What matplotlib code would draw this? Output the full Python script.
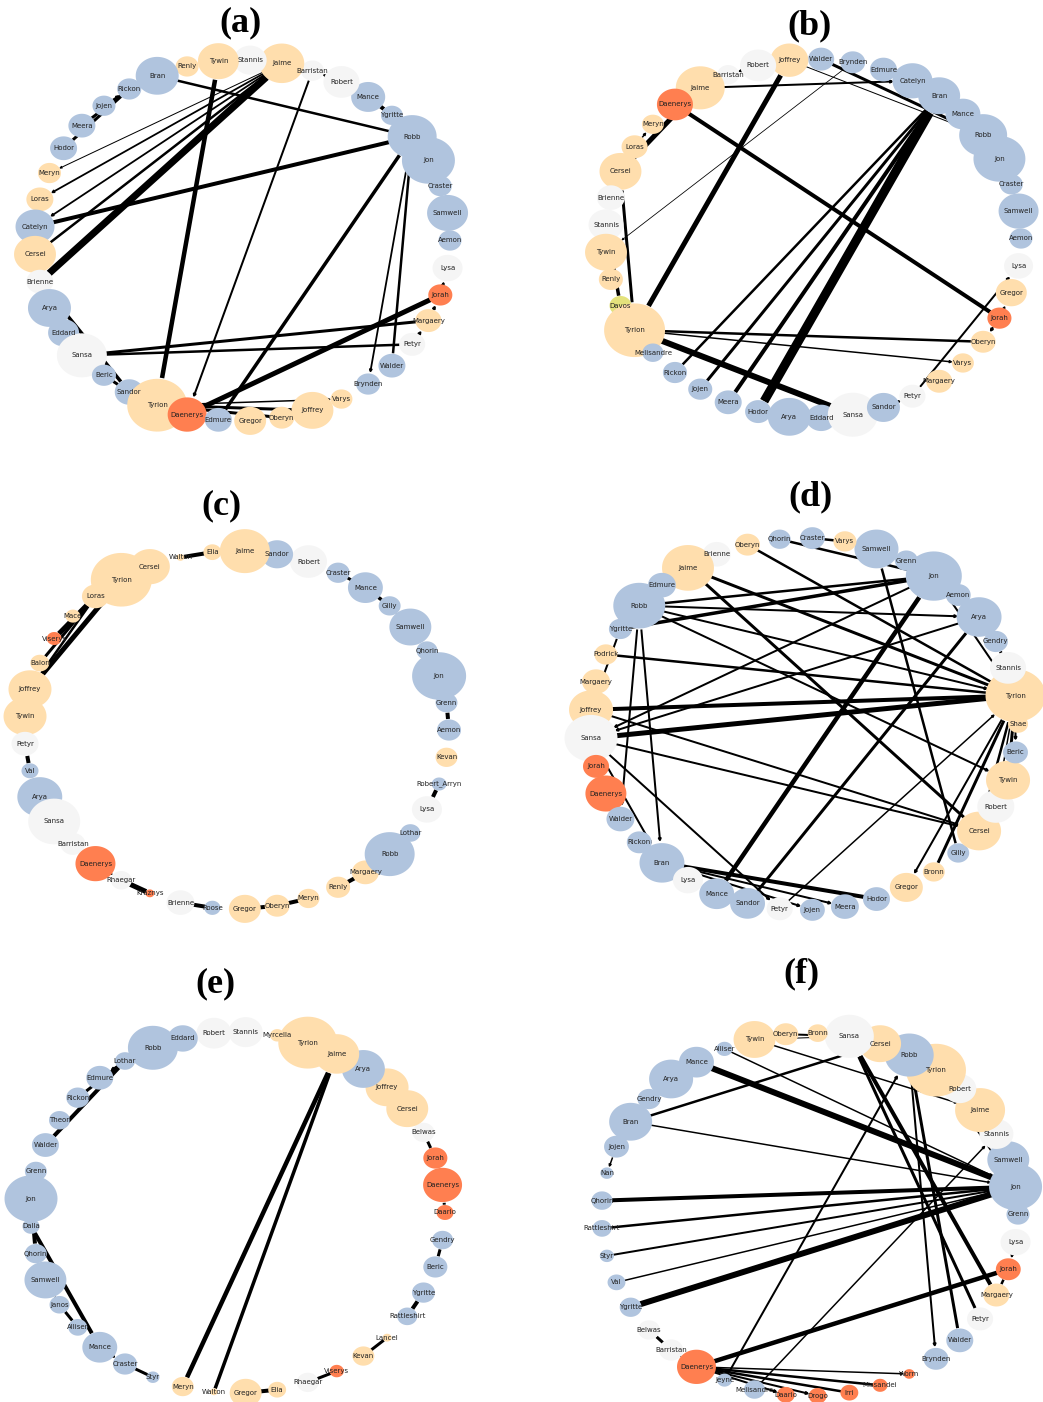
import numpy as np
import matplotlib
matplotlib.use("Agg")
import matplotlib.pyplot as plt
from matplotlib.path import Path
from matplotlib.patches import FancyArrowPatch


# Grupos de personagens (definem a cor do nó) ----------------------------->>>>>
grupo_norte = ["Aemon", "Samwell", "Craster", "Jon", "Robb", "Ygritte", "Mance", "Bran",
               "Rickon", "Jojen", "Meera", "Hodor", "Catelyn", "Arya", "Eddard", "Beric",
               "Sandor", "Edmure", "Brynden", "Walder", "Melisandre", "Grenn", "Gilly",
               "Qhorin", "Lothar", "Roose", "Val", "Robert_Arryn", "Gendry", "Theon",
               "Dalla", "Janos", "Alliser", "Styr", "Rattleshirt", "Nan", "Jeyne"]
grupo_lannister = ["Jaime", "Tywin", "Renly", "Meryn", "Loras", "Cersei", "Tyrion", "Gregor",
                   "Oberyn", "Joffrey", "Varys", "Margaery", "Elia", "Walton", "Mace", "Balon",
                   "Kevan", "Shae", "Podrick", "Bronn", "Myrcella", "Lancel"]
grupo_neutro = ["Stannis", "Barristan", "Robert", "Brienne", "Sansa", "Petyr", "Lysa",
                "Rhaegar", "Belwas"]
grupo_targaryen = ["Daenerys", "Jorah", "Viserys", "Kraznys", "Daario", "Worm", "Missandei",
                   "Irri", "Drogo"]
grupo_davos = ["Davos"]


# Painel (a) ----------------------------->>>>>
nomes_a = ["Aemon", "Samwell", "Craster", "Jon", "Robb", "Ygritte", "Mance", "Robert",
           "Barristan", "Jaime", "Stannis", "Tywin", "Renly", "Bran", "Rickon", "Jojen",
           "Meera", "Hodor", "Meryn", "Loras", "Catelyn", "Cersei", "Brienne", "Arya",
           "Eddard", "Sansa", "Beric", "Sandor", "Tyrion", "Daenerys", "Edmure", "Gregor",
           "Oberyn", "Joffrey", "Varys", "Brynden", "Walder", "Petyr", "Margaery", "Jorah",
           "Lysa"]
valores_a = [53, 168, 53, 281, 240, 48, 116, 130, 53, 202, 109, 168, 53, 185, 58, 53, 73, 73,
             53, 73, 152, 176, 73, 185, 96, 250, 58, 84, 360, 152, 73, 102, 62, 176, 48, 58,
             73, 68, 68, 58, 90]
arestas_a = [("Hodor", "Rickon", 3), ("Meera", "Rickon", 3), ("Jojen", "Rickon", 2),
             ("Ygritte", "Mance", 4), ("Robert", "Barristan", 1.5), ("Bran", "Robb", 2.5),
             ("Jaime", "Meryn", 1), ("Jaime", "Loras", 1.8), ("Jaime", "Catelyn", 1.8),
             ("Jaime", "Cersei", 2.5), ("Jaime", "Brienne", 7), ("Robb", "Catelyn", 4),
             ("Tywin", "Tyrion", 4.5), ("Barristan", "Daenerys", 2), ("Robb", "Edmure", 3.5),
             ("Robb", "Walder", 2.5), ("Robb", "Brynden", 1.8), ("Sansa", "Margaery", 3),
             ("Sansa", "Petyr", 2.5), ("Daenerys", "Jorah", 5), ("Jorah", "Lysa", 2),
             ("Margaery", "Jorah", 2), ("Petyr", "Margaery", 2), ("Tyrion", "Varys", 1.5),
             ("Tyrion", "Joffrey", 3), ("Tyrion", "Oberyn", 3), ("Beric", "Sandor", 3),
             ("Brienne", "Sandor", 3.5)]

# Painel (b) ----------------------------->>>>>
nomes_b = ["Aemon", "Samwell", "Craster", "Jon", "Robb", "Mance", "Bran", "Catelyn", "Edmure",
           "Brynden", "Walder", "Joffrey", "Robert", "Barristan", "Jaime", "Daenerys", "Meryn",
           "Loras", "Cersei", "Brienne", "Stannis", "Tywin", "Renly", "Davos", "Tyrion",
           "Melisandre", "Rickon", "Jojen", "Meera", "Hodor", "Arya", "Eddard", "Sansa",
           "Sandor", "Petyr", "Margaery", "Varys", "Oberyn", "Jorah", "Gregor", "Lysa"]
valores_b = [53, 160, 53, 270, 230, 122, 176, 160, 73, 62, 68, 144, 130, 48, 240, 130, 48, 68,
             176, 78, 122, 176, 58, 48, 372, 44, 58, 58, 73, 68, 185, 90, 250, 109, 68, 68, 48,
             62, 58, 96, 84]
arestas_b = [("Robert", "Barristan", 1.5), ("Jaime", "Catelyn", 2), ("Walder", "Robb", 3),
             ("Joffrey", "Robb", 1), ("Brynden", "Tywin", 0.8), ("Bran", "Rickon", 2.5),
             ("Bran", "Jojen", 3), ("Bran", "Meera", 4), ("Bran", "Hodor", 9),
             ("Daenerys", "Jorah", 4), ("Joffrey", "Tyrion", 5), ("Jaime", "Cersei", 5),
             ("Loras", "Meryn", 1.5), ("Cersei", "Tyrion", 3), ("Stannis", "Davos", 3.5),
             ("Tyrion", "Oberyn", 2.5), ("Tyrion", "Varys", 1.5), ("Tyrion", "Sansa", 6),
             ("Petyr", "Lysa", 2), ("Sandor", "Petyr", 2), ("Jorah", "Gregor", 1.5),
             ("Jorah", "Oberyn", 2)]

# Painel (c) ----------------------------->>>>>
nomes_c = ["Aemon", "Grenn", "Jon", "Qhorin", "Samwell", "Gilly", "Mance", "Craster", "Robert",
           "Sandor", "Jaime", "Elia", "Walton", "Cersei", "Tyrion", "Loras", "Mace", "Viserys",
           "Balon", "Joffrey", "Tywin", "Petyr", "Val", "Arya", "Sansa", "Barristan",
           "Daenerys", "Rhaegar", "Kraznys", "Brienne", "Roose", "Gregor", "Oberyn", "Meryn",
           "Renly", "Margaery", "Robb", "Lothar", "Lysa", "Robert_Arryn", "Kevan"]
valores_c = [58, 48, 292, 44, 176, 48, 122, 53, 137, 102, 250, 32, 6, 160, 372, 73, 22, 22, 36,
             185, 185, 73, 29, 202, 270, 62, 160, 44, 8, 78, 26, 102, 62, 48, 58, 73, 250, 40,
             90, 22, 48]
arestas_c = [("Walton", "Elia", 4), ("Loras", "Viserys", 5), ("Loras", "Balon", 3),
             ("Loras", "Joffrey", 2.5), ("Tyrion", "Joffrey", 5), ("Craster", "Mance", 3),
             ("Mance", "Gilly", 3.5), ("Gilly", "Samwell", 1.5), ("Grenn", "Aemon", 4),
             ("Robert_Arryn", "Lysa", 4), ("Petyr", "Val", 4), ("Barristan", "Daenerys", 2),
             ("Daenerys", "Rhaegar", 1.5), ("Rhaegar", "Kraznys", 5), ("Brienne", "Roose", 4),
             ("Gregor", "Oberyn", 4), ("Oberyn", "Meryn", 4), ("Renly", "Margaery", 4)]

# Painel (d) ----------------------------->>>>>
nomes_d = ["Shae", "Tyrion", "Stannis", "Gendry", "Arya", "Aemon", "Jon", "Grenn", "Samwell",
           "Varys", "Craster", "Qhorin", "Oberyn", "Brienne", "Jaime", "Edmure", "Robb",
           "Ygritte", "Podrick", "Margaery", "Joffrey", "Sansa", "Jorah", "Daenerys", "Walder",
           "Rickon", "Bran", "Lysa", "Mance", "Sandor", "Petyr", "Jojen", "Meera", "Hodor",
           "Gregor", "Bronn", "Gilly", "Cersei", "Robert", "Tywin", "Beric"]
valores_d = [40, 360, 130, 58, 202, 62, 314, 53, 194, 53, 62, 48, 62, 78, 270, 78, 270, 53, 53,
             78, 194, 281, 68, 168, 78, 62, 202, 90, 122, 122, 68, 62, 78, 73, 109, 48, 48, 194,
             137, 194, 62]
arestas_d = [("Qhorin", "Jon", 2.5), ("Craster", "Varys", 2.5), ("Varys", "Samwell", 1.5),
             ("Robb", "Jon", 2.5), ("Ygritte", "Jon", 3.5), ("Robb", "Arya", 2),
             ("Robb", "Tyrion", 2), ("Robb", "Tywin", 2), ("Robb", "Walder", 2),
             ("Robb", "Bran", 2), ("Ygritte", "Joffrey", 2), ("Jaime", "Tyrion", 3),
             ("Jaime", "Cersei", 3), ("Oberyn", "Tyrion", 2.5), ("Podrick", "Tyrion", 2.5),
             ("Joffrey", "Tyrion", 4), ("Sansa", "Tyrion", 5), ("Joffrey", "Cersei", 2),
             ("Sansa", "Cersei", 2), ("Jon", "Sansa", 2), ("Arya", "Sansa", 2),
             ("Sansa", "Petyr", 2), ("Sansa", "Bran", 2), ("Jon", "Mance", 4.5),
             ("Arya", "Sandor", 3), ("Samwell", "Gilly", 2.5), ("Jon", "Tyrion", 2),
             ("Gendry", "Stannis", 3), ("Arya", "Gendry", 1.5), ("Tyrion", "Shae", 2),
             ("Tyrion", "Beric", 2), ("Tyrion", "Tywin", 3), ("Tyrion", "Robert", 1.5),
             ("Tyrion", "Cersei", 2.5), ("Tyrion", "Bronn", 3), ("Tyrion", "Gregor", 2),
             ("Petyr", "Tyrion", 1.5), ("Bran", "Hodor", 4), ("Bran", "Meera", 2),
             ("Bran", "Jojen", 2)]

# Painel (e) ----------------------------->>>>>
nomes_e = ["Daario", "Daenerys", "Jorah", "Belwas", "Cersei", "Joffrey", "Arya", "Jaime",
           "Tyrion", "Myrcella", "Stannis", "Robert", "Eddard", "Robb", "Lothar", "Edmure",
           "Rickon", "Theon", "Walder", "Grenn", "Jon", "Dalla", "Qhorin", "Samwell", "Janos",
           "Alliser", "Mance", "Craster", "Styr", "Meryn", "Walton", "Gregor", "Elia",
           "Rhaegar", "Viserys", "Kevan", "Lancel", "Rattleshirt", "Ygritte", "Beric", "Gendry"]
valores_e = [29, 152, 58, 48, 176, 185, 185, 202, 348, 20, 116, 122, 90, 250, 40, 73, 53, 44,
             73, 48, 281, 29, 48, 176, 40, 36, 122, 58, 17, 48, 6, 102, 32, 48, 20, 48, 8, 40,
             53, 58, 44]
arestas_e = [("Lothar", "Walder", 4), ("Lothar", "Rickon", 3), ("Lothar", "Edmure", 2),
             ("Jaime", "Meryn", 4.5), ("Jaime", "Walton", 3.5), ("Belwas", "Jorah", 3),
             ("Daenerys", "Daario", 3), ("Gendry", "Beric", 3), ("Ygritte", "Rattleshirt", 4),
             ("Kevan", "Lancel", 3), ("Rhaegar", "Viserys", 3), ("Gregor", "Elia", 4),
             ("Craster", "Styr", 3), ("Mance", "Craster", 2), ("Dalla", "Mance", 4),
             ("Jon", "Qhorin", 4), ("Janos", "Alliser", 3), ("Samwell", "Janos", 1.5)]

# Painel (f) ----------------------------->>>>>
nomes_f = ["Grenn", "Jon", "Samwell", "Stannis", "Jaime", "Robert", "Tyrion", "Robb", "Cersei",
           "Sansa", "Bronn", "Oberyn", "Tywin", "Alliser", "Mance", "Arya", "Gendry", "Bran",
           "Jojen", "Nan", "Qhorin", "Rattleshirt", "Styr", "Val", "Ygritte", "Belwas",
           "Barristan", "Daenerys", "Jeyne", "Melisandre", "Daario", "Drogo", "Irri",
           "Missandei", "Worm", "Brynden", "Walder", "Petyr", "Margaery", "Jorah", "Lysa"]
valores_f = [53, 281, 176, 116, 250, 109, 360, 240, 176, 240, 40, 62, 176, 26, 122, 194, 53, 185,
             62, 17, 44, 36, 20, 32, 48, 48, 58, 152, 22, 44, 32, 32, 32, 22, 12, 62, 73, 68, 68,
             62, 90]
arestas_f = [("Oberyn", "Sansa", 2), ("Tywin", "Sansa", 1), ("Sansa", "Margaery", 4),
             ("Sansa", "Petyr", 3), ("Jorah", "Margaery", 2.5), ("Lysa", "Jorah", 2),
             ("Robb", "Walder", 3), ("Robb", "Brynden", 2), ("Cersei", "Bran", 2.5),
             ("Mance", "Jon", 6), ("Alliser", "Jon", 1.5), ("Tywin", "Jaime", 1.5),
             ("Bran", "Jon", 1.5), ("Qhorin", "Jon", 4), ("Rattleshirt", "Jon", 2.5),
             ("Styr", "Jon", 2), ("Val", "Jon", 1.5), ("Ygritte", "Jon", 6),
             ("Jojen", "Nan", 1.5), ("Belwas", "Barristan", 3), ("Barristan", "Daenerys", 1.5),
             ("Daenerys", "Jorah", 4.5), ("Daenerys", "Worm", 1.5), ("Daenerys", "Missandei", 2.5),
             ("Daenerys", "Irri", 2.5), ("Daenerys", "Drogo", 2), ("Daenerys", "Daario", 2),
             ("Jeyne", "Robb", 2), ("Melisandre", "Stannis", 1.5), ("Tyrion", "Jon", 1.5)]


# Estilo ----------------------------->>>>>
LARGURA, ALTURA, DPI = 1043, 1402, 100
PX = 72 / DPI  # pixels -> pontos

cores_grupo = [(grupo_norte, "#b0c4de"), (grupo_lannister, "#ffdead"),
               (grupo_neutro, "#f5f5f5"), (grupo_targaryen, "#ff7f50"),
               (grupo_davos, "#e4e27c")]


def cor_do_no(nome):
    for grupo, cor in cores_grupo:
        if nome in grupo:
            return cor
    return "#f5f5f5"


# Marcador elíptico (a imagem original é levemente achatada na vertical)
t = np.linspace(0, 2 * np.pi, 64)
elipse = Path(np.column_stack([np.cos(t), 0.88 * np.sin(t)]), closed=True)


def desenha_rede(ax, nomes, valores, arestas):
    n = len(nomes)
    ang = 2 * np.pi * np.arange(n) / n
    xs, ys = np.cos(ang), np.sin(ang)
    pos = {nome: (x, y) for nome, x, y in zip(nomes, xs, ys)}
    area = {nome: v * 10 * PX ** 2 for nome, v in zip(nomes, valores)}

    # Arestas (zorder 1); só as finas mostram a ponta da seta
    for origem, destino, peso in arestas:
        estilo = "-|>" if peso <= 2 else "-"
        seta = FancyArrowPatch(pos[origem], pos[destino], arrowstyle=estilo,
                               mutation_scale=3.5, lw=peso * PX, color="k",
                               capstyle="butt",
                               shrinkA=np.sqrt(area[origem]) / 2 * 0.92,
                               shrinkB=np.sqrt(area[destino]) / 2 * 0.92,
                               zorder=1, clip_on=False)
        ax.add_patch(seta)

    # Nós (zorder 2)
    ax.scatter(xs, ys, s=[area[nm] for nm in nomes], c=[cor_do_no(nm) for nm in nomes],
               marker=elipse, linewidths=0, zorder=2, clip_on=False)

    # Rótulos (zorder 3)
    for nome, x, y in zip(nomes, xs, ys):
        ax.text(x, y, nome, fontsize=5, ha="center", va="center", color="#222222",
                zorder=3, clip_on=False)

    ax.set_xlim(-1.2, 1.2)
    ax.set_ylim(-1.2, 1.2)
    ax.axis("off")


# Figura ----------------------------->>>>>
fig = plt.figure(figsize=(LARGURA / DPI, ALTURA / DPI), dpi=DPI)

# centro e raios (px) de cada círculo, e posição do título
paineis = [
    ("(a)", nomes_a, valores_a, arestas_a, (242.2, 240.5, 207.8, 180.5), (240.5, 23)),
    ("(b)", nomes_b, valores_b, arestas_b, (813.2, 238.5, 207.8, 179.5), (809.5, 25.5)),
    ("(c)", nomes_c, valores_c, arestas_c, (236.7, 730.0, 212.3, 179.0), (221, 506)),
    ("(d)", nomes_d, valores_d, arestas_d, (804.2, 724.0, 213.8, 186.0), (811, 496.5)),
    ("(e)", nomes_e, valores_e, arestas_e, (237.7, 1212.5, 207.3, 180.5), (215, 984)),
    ("(f)", nomes_f, valores_f, arestas_f, (809.7, 1214.5, 208.3, 181.5), (801, 974)),
]

for titulo, nomes, valores, arestas, (cx, cy, rx, ry), (tx, ty) in paineis:
    ax = fig.add_axes([(cx - 1.2 * rx) / LARGURA, 1 - (cy + 1.2 * ry) / ALTURA,
                       2.4 * rx / LARGURA, 2.4 * ry / ALTURA])
    desenha_rede(ax, nomes, valores, arestas)
    fig.text(tx / LARGURA, 1 - ty / ALTURA, titulo, fontsize=26, fontweight="bold",
             family="Liberation Serif", ha="center", va="center")

fig.savefig("out.png", dpi=DPI)
